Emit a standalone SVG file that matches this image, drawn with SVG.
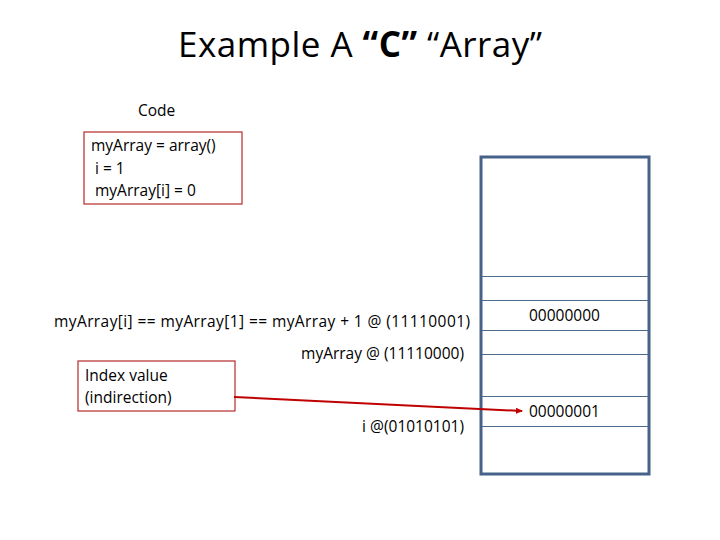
<svg xmlns="http://www.w3.org/2000/svg" width="720" height="540" viewBox="0 0 720 540">
<style>
text{font-family:"Open Sans","Liberation Sans",sans-serif;fill:#000}
.t{font-size:15.5px}
.red{fill:#fff;stroke:#b22a2a;stroke-width:1.2}
.cell{stroke:#4a6a8a;stroke-width:1}
</style>
<defs><marker id="ah" markerWidth="8" markerHeight="8" refX="6" refY="3" orient="auto" markerUnits="userSpaceOnUse"><path d="M0,0 L7,3 L0,6 z" fill="#c00000"/></marker></defs>
<rect width="720" height="540" fill="#fff"/>
<text x="360" y="57" font-size="35" text-anchor="middle" textLength="364">Example A <tspan font-weight="bold">“C”</tspan> “Array”</text>
<g id="codeLabel"><text class="t" x="138" y="116">Code</text></g>
<g id="code"><rect class="red" x="84" y="132" width="158" height="72"/>
<text class="t" x="91" y="151">myArray = array()</text>
<text class="t" x="95" y="174">i = 1</text>
<text class="t" x="95" y="196">myArray[i] = 0</text></g>
<g id="memory">
<rect x="481" y="157" width="168" height="317" fill="#fff" stroke="#46628a" stroke-width="3"/>
<line class="cell" x1="482" y1="276.5" x2="648" y2="276.5"/>
<line class="cell" x1="482" y1="300.5" x2="648" y2="300.5"/>
<line class="cell" x1="482" y1="330.5" x2="648" y2="330.5"/>
<line class="cell" x1="482" y1="354.5" x2="648" y2="354.5"/>
<line class="cell" x1="482" y1="396.5" x2="648" y2="396.5"/>
<line class="cell" x1="482" y1="426.5" x2="648" y2="426.5"/>
<text class="t" x="529" y="321">00000000</text>
<text class="t" x="529" y="417">00000001</text>
</g>
<g id="labels">
<text class="t" x="54" y="327" textLength="416" lengthAdjust="spacing">myArray[i] == myArray[1]  == myArray + 1  @ (11110001)</text>
<text class="t" x="464" y="359" text-anchor="end">myArray @ (11110000)</text>
<text class="t" x="464" y="432" text-anchor="end">i @(01010101)</text>
</g>
<g id="index"><rect class="red" x="78" y="361" width="157" height="50"/>
<text class="t" x="85" y="381">Index value</text>
<text class="t" x="85" y="403">(indirection)</text></g>
<g id="connectors">
<path d="M234,397 L522,411" stroke="#c00000" stroke-width="2" fill="none" marker-end="url(#ah)"/>
</g>
</svg>
